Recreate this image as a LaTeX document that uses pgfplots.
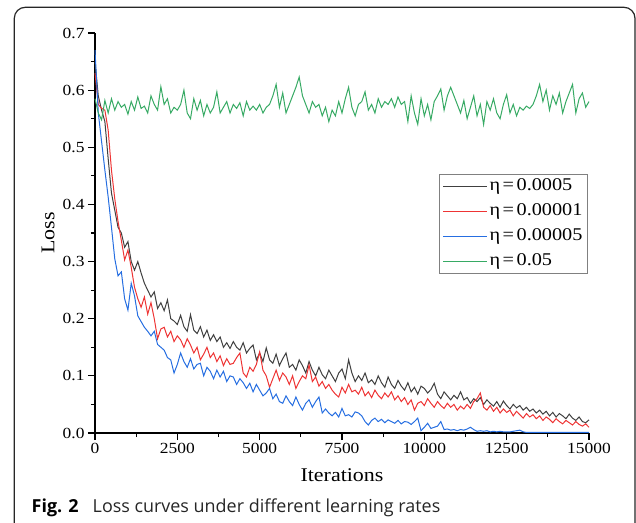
\documentclass[border=0pt]{standalone}
\usepackage{fontspec}
\setmainfont{Liberation Serif}[FakeStretch=1.13]
\newfontfamily\capfont{Open Sans}
\usepackage{pgfplots}
\usepackage{pgfplotstable}
\pgfplotsset{compat=1.18}
\definecolor{cblack}{RGB}{64,64,64}
\definecolor{cred}{RGB}{238,52,52}
\definecolor{cblue}{RGB}{38,110,225}
\definecolor{cgreen}{RGB}{55,170,100}
\newcommand{\eq}{\hspace{2.5bp}=\hspace{2.5bp}}
\pgfplotstableread{
it b r bl g
0 0.650 0.630 0.670 0.585
100 0.590 0.575 0.560 0.560
200 0.565 0.568 0.510 0.548
300 0.545 0.565 0.460 0.582
400 0.480 0.530 0.413 0.560
500 0.420 0.460 0.360 0.585
600 0.390 0.410 0.305 0.565
700 0.360 0.370 0.275 0.580
800 0.350 0.337 0.282 0.570
900 0.325 0.303 0.235 0.575
1000 0.335 0.320 0.215 0.558
1100 0.300 0.290 0.262 0.580
1200 0.285 0.255 0.240 0.565
1300 0.300 0.235 0.205 0.588
1400 0.280 0.220 0.195 0.568
1500 0.262 0.238 0.185 0.572
1600 0.250 0.208 0.178 0.560
1700 0.238 0.228 0.170 0.590
1800 0.247 0.200 0.178 0.575
1900 0.218 0.165 0.155 0.565
2000 0.228 0.182 0.150 0.606
2100 0.214 0.185 0.145 0.575
2200 0.233 0.168 0.132 0.585
2300 0.200 0.178 0.128 0.560
2400 0.196 0.160 0.105 0.570
2500 0.190 0.170 0.120 0.565
2600 0.206 0.163 0.140 0.575
2700 0.186 0.150 0.125 0.600
2800 0.178 0.165 0.115 0.560
2900 0.207 0.154 0.130 0.550
3000 0.180 0.140 0.112 0.585
3100 0.174 0.150 0.120 0.565
3200 0.186 0.128 0.122 0.582
3300 0.168 0.138 0.100 0.555
3400 0.180 0.150 0.115 0.575
3500 0.162 0.132 0.108 0.560
3600 0.172 0.140 0.095 0.570
3700 0.160 0.125 0.110 0.597
3800 0.168 0.135 0.098 0.560
3900 0.150 0.118 0.108 0.570
4000 0.158 0.130 0.090 0.580
4100 0.148 0.120 0.100 0.560
4200 0.160 0.122 0.098 0.575
4300 0.150 0.132 0.085 0.568
4400 0.145 0.140 0.095 0.578
4500 0.158 0.105 0.088 0.555
4600 0.140 0.098 0.078 0.580
4700 0.148 0.115 0.087 0.565
4800 0.154 0.108 0.072 0.572
4900 0.128 0.120 0.085 0.565
5000 0.140 0.142 0.075 0.575
5100 0.125 0.110 0.065 0.560
5200 0.149 0.100 0.070 0.570
5300 0.128 0.080 0.078 0.575
5400 0.122 0.095 0.060 0.590
5500 0.138 0.110 0.068 0.610
5600 0.118 0.092 0.055 0.570
5700 0.130 0.105 0.052 0.595
5800 0.140 0.098 0.065 0.560
5900 0.115 0.085 0.055 0.575
6000 0.120 0.100 0.048 0.590
6100 0.110 0.078 0.063 0.605
6200 0.128 0.090 0.050 0.623
6300 0.118 0.100 0.040 0.590
6400 0.105 0.095 0.052 0.575
6500 0.125 0.119 0.058 0.560
6600 0.110 0.090 0.045 0.580
6700 0.100 0.098 0.055 0.570
6800 0.115 0.082 0.063 0.575
6900 0.102 0.090 0.035 0.555
7000 0.095 0.078 0.042 0.570
7100 0.110 0.085 0.035 0.545
7200 0.100 0.075 0.030 0.565
7300 0.090 0.068 0.036 0.555
7400 0.105 0.063 0.028 0.580
7500 0.112 0.080 0.043 0.560
7600 0.095 0.070 0.030 0.585
7700 0.128 0.085 0.032 0.605
7800 0.105 0.072 0.028 0.570
7900 0.090 0.075 0.037 0.555
8000 0.100 0.068 0.035 0.575
8100 0.092 0.080 0.030 0.580
8200 0.105 0.065 0.020 0.597
8300 0.088 0.072 0.014 0.565
8400 0.093 0.062 0.022 0.575
8500 0.085 0.075 0.026 0.560
8600 0.100 0.066 0.020 0.585
8700 0.088 0.060 0.024 0.570
8800 0.080 0.070 0.018 0.580
8900 0.098 0.063 0.023 0.575
9000 0.085 0.072 0.020 0.585
9100 0.078 0.058 0.017 0.570
9200 0.092 0.065 0.022 0.588
9300 0.082 0.055 0.016 0.575
9400 0.075 0.062 0.020 0.580
9500 0.088 0.050 0.019 0.545
9600 0.072 0.058 0.015 0.590
9700 0.080 0.040 0.020 0.560
9800 0.068 0.052 0.026 0.540
9900 0.082 0.055 0.004 0.585
10000 0.078 0.048 0.010 0.555
10100 0.070 0.060 0.017 0.575
10200 0.076 0.052 0.008 0.548
10300 0.087 0.045 0.010 0.580
10400 0.068 0.055 0.012 0.590
10500 0.060 0.048 0.020 0.602
10600 0.072 0.043 0.006 0.565
10700 0.065 0.052 0.007 0.590
10800 0.058 0.045 0.005 0.605
10900 0.066 0.050 0.006 0.590
11000 0.060 0.040 0.004 0.575
11100 0.072 0.047 0.006 0.560
11200 0.058 0.042 0.005 0.582
11300 0.062 0.050 0.007 0.550
11400 0.052 0.043 0.010 0.570
11500 0.060 0.055 0.006 0.590
11600 0.055 0.060 0.003 0.555
11700 0.062 0.070 0.004 0.575
11800 0.050 0.045 0.003 0.540
11900 0.058 0.040 0.004 0.580
12000 0.052 0.048 0.002 0.565
12100 0.047 0.038 0.003 0.585
12200 0.055 0.045 0.002 0.560
12300 0.045 0.035 0.003 0.550
12400 0.056 0.042 0.002 0.575
12500 0.048 0.036 0.002 0.592
12600 0.042 0.040 0.002 0.560
12700 0.050 0.030 0.003 0.575
12800 0.044 0.038 0.004 0.555
12900 0.048 0.032 0.005 0.570
13000 0.040 0.026 0.002 0.565
13100 0.045 0.034 0.001 0.572
13200 0.038 0.028 0.001 0.568
13300 0.042 0.032 0.001 0.575
13400 0.035 0.025 0.001 0.590
13500 0.040 0.030 0.001 0.610
13600 0.033 0.022 0.001 0.580
13700 0.038 0.028 0.001 0.600
13800 0.030 0.024 0.001 0.565
13900 0.036 0.018 0.001 0.590
14000 0.028 0.025 0.001 0.575
14100 0.034 0.020 0.001 0.595
14200 0.030 0.016 0.001 0.560
14300 0.025 0.022 0.001 0.580
14400 0.033 0.018 0.001 0.595
14500 0.026 0.014 0.001 0.610
14600 0.022 0.020 0.001 0.560
14700 0.028 0.015 0.001 0.585
14800 0.020 0.012 0.001 0.595
14900 0.018 0.016 0.001 0.570
15000 0.023 0.010 0.001 0.580
}\losstable
\begin{document}
\begin{tikzpicture}
\path[use as bounding box] (0,0) rectangle (636bp,523bp);
\draw[line width=1.2bp, color=black!85, rounded corners=11bp] (14.3bp,-30bp) rectangle (635bp,515.7bp);
\begin{axis}[
  at={(95bp,90bp)}, anchor=south west,
  scale only axis, width=494bp, height=400bp,
  xmin=0, xmax=15000, ymin=0, ymax=0.7,
  clip=false,
  axis lines=left,
  axis line style={-, line width=1.3bp, black},
  xtick={0,2500,5000,7500,10000,12500,15000},
  ytick={0,0.1,0.2,0.3,0.4,0.5,0.6,0.7},
  minor tick num=1,
  tick align=outside,
  major tick length=7bp, minor tick length=4bp,
  every tick/.style={line width=1.1bp, black},
  scaled x ticks=false, scaled y ticks=false,
  xticklabel style={/pgf/number format/set thousands separator={}, /pgf/number format/assume math mode=true, font=\fontsize{15.5}{15.5}\selectfont},
  yticklabel style={/pgf/number format/fixed, /pgf/number format/fixed zerofill, /pgf/number format/precision=1, /pgf/number format/assume math mode=true, font=\fontsize{15.5}{15.5}\selectfont},
  xlabel={Iterations}, ylabel={Loss},
  label style={font=\fontsize{19.5}{19.5}\selectfont},
  xlabel style={at={(axis description cs:0.5,-0.1225)}, anchor=base},
  ylabel style={at={(axis description cs:-0.095,0.5)}, anchor=center},
  legend style={at={(axis description cs:0.697,0.6475)}, anchor=north west, draw=gray, line width=0.8bp,
    font=\fontsize{18}{18}\selectfont, inner xsep=3bp, inner ysep=4bp, row sep=9bp,
    nodes={inner ysep=0bp, text height=12bp, text depth=4bp}},
  legend cell align=left,
  legend image code/.code={\draw[#1, line width=0.9bp] (0bp,0bp) -- (44bp,0bp);},
]
\addplot[cblack, line width=1bp] table[x=it, y=b] {\losstable};
\addlegendentry{η\eq 0.0005}
\addplot[cred, line width=1bp] table[x=it, y=r] {\losstable};
\addlegendentry{η\eq 0.00001}
\addplot[cblue, line width=1bp] table[x=it, y=bl] {\losstable};
\addlegendentry{η\eq 0.00005}
\addplot[cgreen, line width=1bp] table[x=it, y=g] {\losstable};
\addlegendentry{η\eq 0.05}
\end{axis}
\node[anchor=base west, inner sep=0pt] at (31.5bp,10.3bp) {\capfont\fontsize{18}{18}\selectfont\bfseries Fig. 2};
\node[anchor=base west, inner sep=0pt, text=black!85] at (92.5bp,10.3bp) {\capfont\fontsize{18}{18}\selectfont Loss curves under different learning rates};
\end{tikzpicture}
\end{document}
